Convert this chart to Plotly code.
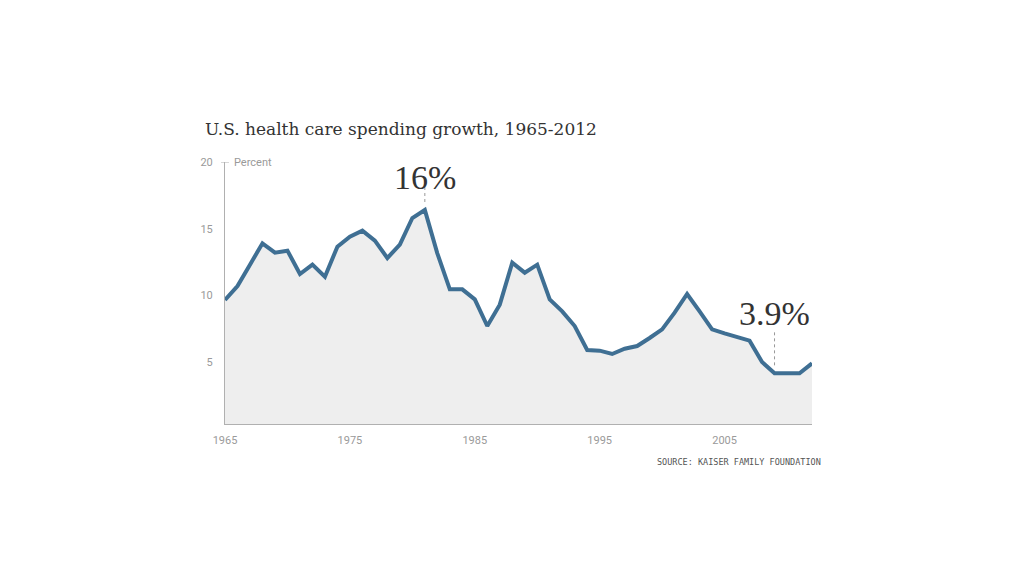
import plotly.graph_objects as go

years = list(range(1965, 2013))
growth = [9.65, 10.7, 12.3, 13.9, 13.2, 13.35, 11.6, 12.3, 11.4, 13.65,
          14.4, 14.85, 14.1, 12.8, 13.8, 15.8, 16.4, 13.15, 10.45, 10.45,
          9.7, 7.7, 9.3, 12.45, 11.7, 12.3, 9.7, 8.8, 7.7, 5.9,
          5.85, 5.6, 6.0, 6.2, 6.8, 7.45, 8.7, 10.1, 8.8, 7.45,
          7.15, 6.85, 6.6, 5.0, 4.15, 4.15, 4.15, 4.9]

x_ticks = [1965, 1975, 1985, 1995, 2005]
y_ticks = [5, 10, 15, 20]

title_text = "U.S. health care spending growth, 1965-2012"
y_unit = "Percent"
source_text = "SOURCE: KAISER FAMILY FOUNDATION"
callouts = [(1981, 16.4, "16%"), (2009, 4.15, "3.9%")]

label_font = dict(family="Liberation Sans Narrow, Roboto, Liberation Sans, sans-serif",
                  size=11, color="#9a9a9a")

fig = go.Figure()
fig.add_trace(go.Scatter(
    x=years, y=growth, mode="lines",
    line=dict(color="#3f6f93", width=4),
    fill="tozeroy", fillcolor="#eeeeee",
    hoverinfo="skip", showlegend=False,
))

fig.update_layout(
    width=1024, height=576,
    margin=dict(l=217, r=220, t=154, b=160),
    paper_bgcolor="white", plot_bgcolor="white",
    xaxis=dict(range=[1965, 2012], tickvals=x_ticks, ticktext=[str(v) for v in x_ticks],
               showgrid=False, zeroline=False, showline=True, linecolor="#b0b0b0",
               linewidth=1, ticks="", tickfont=label_font, ticklabelstandoff=6),
    yaxis=dict(range=[0.35, 20], tickvals=y_ticks, showgrid=False, zeroline=False,
               showline=True, linecolor="#b0b0b0", linewidth=1, ticks="",
               tickfont=label_font, ticklabelstandoff=9),
)

# title
fig.add_annotation(text=title_text, xref="paper", yref="paper", x=-0.038, y=1.0,
                   yshift=33, xanchor="left", yanchor="middle", showarrow=False,
                   font=dict(family="DejaVu Serif, serif", size=17, color="#333333"))
# unit label
fig.add_annotation(text=y_unit, xref="paper", yref="y", x=0.0, y=20, xshift=7,
                   xanchor="left", yanchor="middle", showarrow=False, font=label_font)
# tick mark at top
fig.add_shape(type="line", xref="paper", yref="y", x0=-0.0068, x1=0.0068, y0=20, y1=20,
              line=dict(color="#b0b0b0", width=1))
# source
fig.add_annotation(text=source_text, xref="paper", yref="paper", x=1.0, y=0, xshift=11,
                   yshift=-38, xanchor="right", yanchor="middle", showarrow=False,
                   font=dict(family="DejaVu Sans Mono, monospace", size=8.5, color="#555555"))

for yr, val, txt in callouts:
    top = val + (1.7 if val > 10 else 3.3)
    fig.add_shape(type="line", xref="x", yref="y", x0=yr, x1=yr, y0=val + 0.6, y1=top,
                  line=dict(color="#999999", width=1, dash="dot"))
    fig.add_annotation(text=txt, xref="x", yref="y", x=yr, y=top,
                       yshift=10 if val > 10 else 16,
                       xanchor="center", yanchor="middle", showarrow=False,
                       font=dict(family="Liberation Serif, serif", size=34, color="#333333"))

fig.write_html("out.html")
